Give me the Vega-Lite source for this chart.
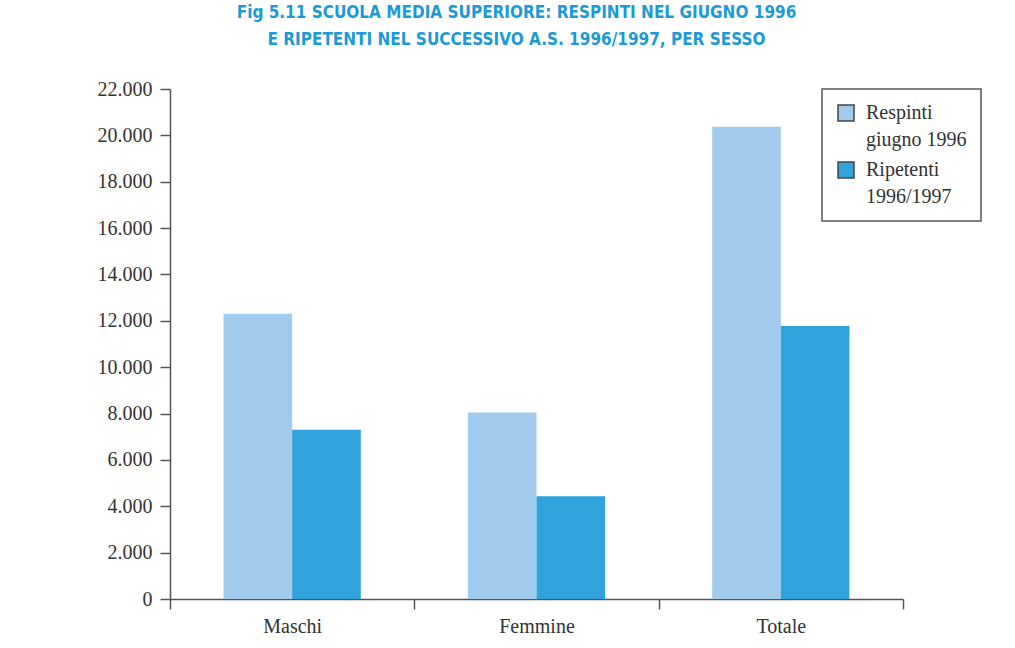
{
  "$schema": "https://vega.github.io/schema/vega-lite/v6.json",
  "width": 733,
  "height": 510,
  "autosize": "none",
  "padding": {"left": 170, "top": 89, "right": 112, "bottom": 48},
  "background": "white",
  "title": {
    "text": ["Fig 5.11 SCUOLA MEDIA SUPERIORE: RESPINTI NEL GIUGNO 1996", "E RIPETENTI NEL SUCCESSIVO A.S. 1996/1997, PER SESSO"],
    "anchor": "middle",
    "frame": "group",
    "dx": -20,
    "offset": 30,
    "font": "DejaVu Sans Condensed, Liberation Sans Narrow, sans-serif",
    "fontSize": 17,
    "fontWeight": "bold",
    "color": "#1c9ad6",
    "lineHeight": 27
  },
  "data": {
    "values": [
      {"sesso": "Maschi", "serie": "Respinti giugno 1996", "valore": 12300},
      {"sesso": "Maschi", "serie": "Ripetenti 1996/1997", "valore": 7300},
      {"sesso": "Femmine", "serie": "Respinti giugno 1996", "valore": 8050},
      {"sesso": "Femmine", "serie": "Ripetenti 1996/1997", "valore": 4430},
      {"sesso": "Totale", "serie": "Respinti giugno 1996", "valore": 20370},
      {"sesso": "Totale", "serie": "Ripetenti 1996/1997", "valore": 11780}
    ]
  },
  "mark": {"type": "bar"},
  "encoding": {
    "x": {
      "field": "sesso",
      "type": "nominal",
      "sort": ["Maschi", "Femmine", "Totale"],
      "scale": {"paddingInner": 0, "paddingOuter": 0},
      "axis": {
        "title": null,
        "labelAngle": 0,
        "tickBand": "extent",
        "tickSize": 10,
        "labelPadding": 7,
        "domainColor": "#555",
        "domainWidth": 1.5,
        "tickColor": "#555",
        "tickWidth": 1.5,
        "labelFont": "Liberation Serif",
        "labelFontSize": 20,
        "labelColor": "#333"
      }
    },
    "xOffset": {
      "field": "serie",
      "type": "nominal",
      "scale": {"paddingInner": 0, "paddingOuter": 0.78}
    },
    "y": {
      "field": "valore",
      "type": "quantitative",
      "scale": {"domain": [0, 22000], "nice": false},
      "axis": {
        "title": null,
        "grid": false,
        "values": [0, 2000, 4000, 6000, 8000, 10000, 12000, 14000, 16000, 18000, 20000, 22000],
        "labelExpr": "replace(format(datum.value, ','), ',', '.')",
        "tickSize": 10,
        "labelPadding": 8,
        "domainColor": "#555",
        "domainWidth": 1.5,
        "tickColor": "#555",
        "tickWidth": 1.5,
        "labelFont": "Liberation Serif",
        "labelFontSize": 20,
        "labelColor": "#333"
      }
    },
    "color": {
      "field": "serie",
      "type": "nominal",
      "scale": {"domain": ["Respinti giugno 1996", "Ripetenti 1996/1997"], "range": ["#a0cbec", "#31a3dc"]},
      "legend": {
        "title": null,
        "orient": "none",
        "legendX": 652,
        "legendY": 0,
        "padding": 14,
        "strokeColor": "#555",
        "fillColor": "white",
        "symbolType": "square",
        "symbolSize": 256,
        "symbolStrokeColor": "#444",
        "symbolStrokeWidth": 1.5,
        "labelFont": "Liberation Serif",
        "labelFontSize": 20,
        "labelColor": "#333",
        "labelOffset": 10,
        "rowPadding": 9,
        "labelExpr": "[slice(datum.label, 0, indexof(datum.label, ' ')), slice(datum.label, indexof(datum.label, ' ') + 1)]",
        "encode": {
          "legend": {"update": {"strokeWidth": {"value": 1.5}}},
          "labels": {"update": {"lineHeight": {"value": 27}}}
        }
      }
    }
  },
  "config": {"view": {"stroke": null}}
}
